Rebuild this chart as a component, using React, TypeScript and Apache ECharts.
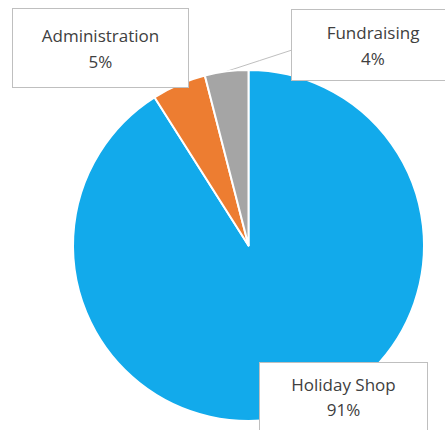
import React, { useEffect, useRef } from "react";
import * as echarts from "echarts";

const categories = ["Holiday Shop", "Administration", "Fundraising"];
const values = [91, 5, 4];
const colors = ["#12AAEB", "#ED7D31", "#A5A5A5"];

// label box layout (pixel positions of the call-out boxes)
const labelBoxes = [
  { cx: 343.5, top: 363, width: 167, padV: 9, lh: 25, line: false },
  { cx: 100.5, top: 9, width: 175, padV: 13, lh: 26, line: false },
  { cx: 373, top: 10, width: 162, padV: 9, lh: 26, line: true },
];
const fundLineEnd = [292, 50];

export default function App() {
  const ref = useRef<HTMLDivElement>(null);
  useEffect(() => {
    document.body.style.margin = "0";
    const chart = echarts.init(ref.current!, undefined, { renderer: "svg" });
    const data = categories.map((name, i) => ({
      name,
      value: values[i],
      itemStyle: { color: colors[i] },
      label: {
        width: labelBoxes[i].width,
        lineHeight: labelBoxes[i].lh,
        padding: [labelBoxes[i].padV, 0, labelBoxes[i].padV, 0],
      },
      labelLine: { show: labelBoxes[i].line },
    }));
    chart.setOption({
      animation: false,
      backgroundColor: "#ffffff",
      series: [
        {
          type: "pie",
          center: [248.5, 245.5],
          radius: [0, 175.5],
          startAngle: 90,
          clockwise: true,
          avoidLabelOverlap: false,
          itemStyle: { borderColor: "#ffffff", borderWidth: 2 },
          label: {
            show: true,
            position: "outside",
            formatter: (p: any) => `${p.name}\n${Math.round(p.percent)}%`,
            fontFamily: "Open Sans",
            fontSize: 17,
            color: "#404040",
            align: "center",
            backgroundColor: "#ffffff",
            borderColor: "#BFBFBF",
            borderWidth: 1,
          },
          labelLine: {
            lineStyle: { color: "#BFBFBF", width: 1 },
            length: 10,
            length2: 10,
          },
          labelLayout: (params: any) => {
            const b = labelBoxes[params.dataIndex];
            const res: any = {
              x: b.cx,
              y: b.top,
              align: "center",
              verticalAlign: "top",
            };
            if (b.line && params.labelLinePoints) {
              const p0 = params.labelLinePoints[0];
              res.labelLinePoints = [
                p0,
                [(p0[0] + fundLineEnd[0]) / 2, (p0[1] + fundLineEnd[1]) / 2],
                fundLineEnd,
              ];
            }
            return res;
          },
          data,
        },
      ],
    });
    return () => chart.dispose();
  }, []);
  return (
    <div
      ref={ref}
      style={{ position: "fixed", left: 0, top: 0, width: 445, height: 430 }}
    />
  );
}
